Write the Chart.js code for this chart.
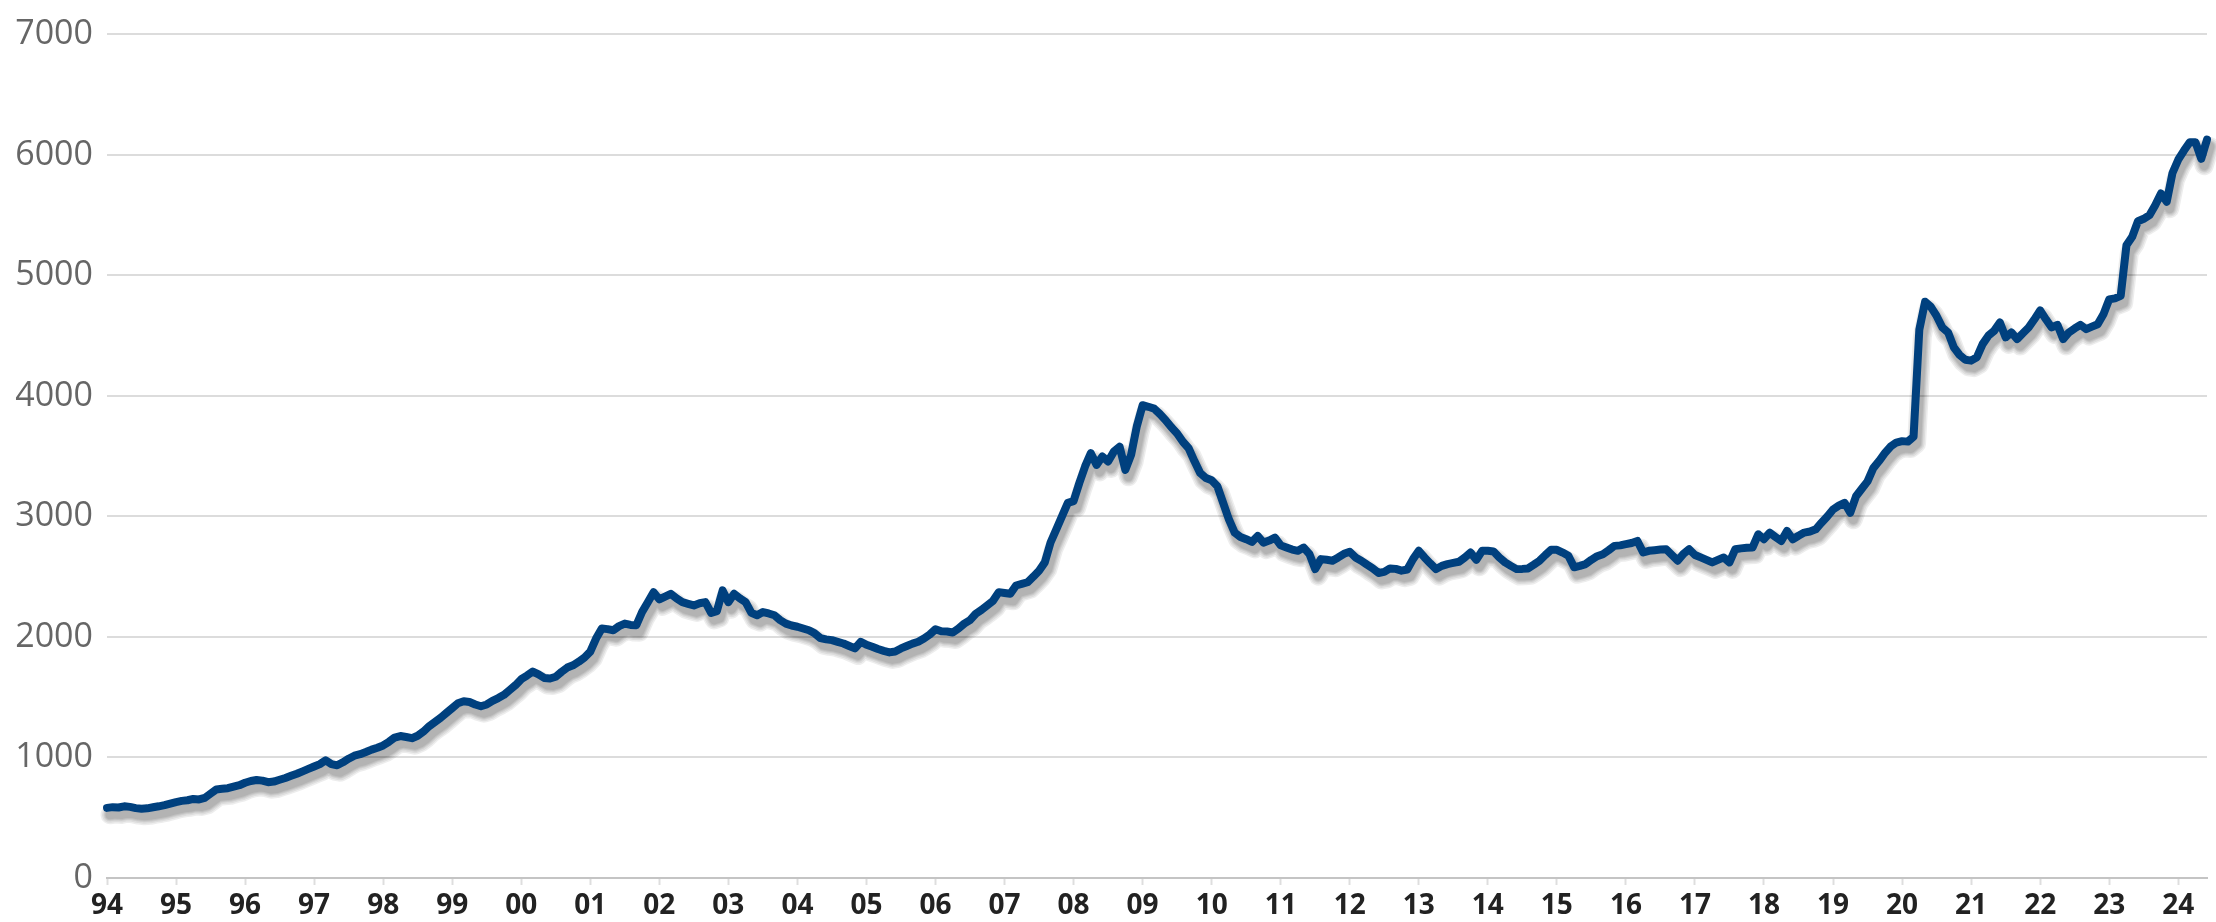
<!DOCTYPE html>
<html>
<head>
<meta charset="utf-8">
<script src="https://cdn.jsdelivr.net/npm/chart.js@4.4.1/dist/chart.umd.min.js"></script>
<style>
  html, body { margin: 0; padding: 0; background: #fff; }
  #wrap { width: 2216px; height: 922px; position: relative; }
</style>
</head>
<body>
<div id="wrap"><canvas id="indexChart"></canvas></div>
<script>
// monthly values, Jan 1994 .. Jun 2024
const values1994to1999 = [
  582, 588, 585, 595, 590, 580, 574, 578, 587, 595, 605, 618,
  630, 640, 645, 656, 652, 665, 700, 735, 740, 745, 758, 770,
  790, 805, 813, 808, 795, 800, 815, 830, 848, 865, 885, 905,
  925, 945, 977, 945, 935, 960, 990, 1015, 1027, 1045, 1065, 1081,
  1100, 1130, 1165, 1178, 1170, 1160, 1180, 1215, 1260, 1295, 1330, 1370,
  1410, 1450, 1466, 1460, 1440, 1425, 1440, 1470, 1493, 1520, 1560, 1600
];
const values2000to2009 = [
  1650, 1680, 1713, 1690, 1660, 1655, 1670, 1710, 1746, 1765, 1795, 1830,
  1878, 1987, 2070, 2065, 2056, 2090, 2111, 2100, 2097, 2207, 2289, 2372,
  2312, 2335, 2358, 2320, 2289, 2275, 2262, 2280, 2289, 2200, 2215, 2386,
  2289, 2358, 2320, 2289, 2200, 2180, 2207, 2195, 2180, 2140, 2111, 2095,
  2085, 2070, 2056, 2030, 1990, 1980, 1974, 1960, 1946, 1925, 1905, 1960,
  1935, 1919, 1900, 1885, 1872, 1880, 1905, 1925, 1945, 1960, 1987, 2020,
  2064, 2048, 2045, 2037, 2070, 2111, 2140, 2193, 2225, 2262, 2300, 2372,
  2365, 2358, 2427, 2440, 2454, 2500, 2550, 2619, 2784, 2893, 3003, 3113,
  3127, 3278, 3415, 3525, 3428, 3497, 3456, 3538, 3579, 3387, 3511, 3750,
  3923, 3910, 3895, 3850, 3799, 3740, 3689, 3620, 3566, 3460, 3360, 3319
];
const values2010to2019 = [
  3300, 3250, 3113, 2975, 2866, 2830, 2811, 2789, 2838, 2783, 2800, 2824,
  2760, 2742, 2725, 2715, 2742, 2687, 2563, 2646, 2640, 2633, 2660, 2690,
  2707, 2660, 2633, 2600, 2569, 2531, 2540, 2569, 2565, 2550, 2560, 2646,
  2715, 2660, 2610, 2563, 2590, 2605, 2615, 2624, 2660, 2701, 2640, 2715,
  2715, 2710, 2660, 2619, 2590, 2563, 2565, 2569, 2600, 2633, 2680, 2723,
  2723, 2700, 2674, 2578, 2590, 2605, 2640, 2670, 2687, 2720, 2756, 2760,
  2770, 2780, 2797, 2701, 2715, 2720, 2725, 2728, 2680, 2633, 2690, 2728,
  2680, 2660, 2640, 2619, 2640, 2660, 2619, 2728, 2735, 2740, 2742, 2852,
  2811, 2866, 2830, 2797, 2880, 2811, 2840, 2866, 2875, 2893, 2948, 3000,
  3058, 3090, 3113, 3031, 3168, 3230, 3291, 3401, 3460, 3525, 3580, 3613
];
const values2020to2024 = [
  3625, 3621, 3662, 4550, 4782, 4740, 4664, 4568, 4527, 4403, 4340, 4300,
  4293, 4321, 4430, 4500, 4540, 4609, 4486, 4527, 4472, 4520, 4568, 4636,
  4710, 4636, 4568, 4590, 4472, 4527, 4560, 4590, 4554, 4575, 4595, 4677,
  4801, 4810, 4830, 5250, 5320, 5450, 5470, 5500, 5583, 5680, 5611, 5850,
  5960, 6036, 6105, 6105, 5968, 6127
];
const yearLabels = ['94', '95', '96', '97', '98', '99', '00', '01', '02', '03', '04',
  '05', '06', '07', '08', '09', '10', '11', '12', '13', '14', '15', '16', '17', '18',
  '19', '20', '21', '22', '23', '24'];
const yTicks = [0, 1000, 2000, 3000, 4000, 5000, 6000, 7000];

const allValues = values1994to1999.concat(values2000to2009, values2010to2019, values2020to2024);
const points = allValues.map((v, i) => ({ x: i, y: v }));

// soft drop shadow: stroke the line's own path a few times, offset, wide and faint
const lineShadow = {
  id: 'lineShadow',
  beforeDatasetDraw(chart, args) {
    const line = args.meta.dataset;
    if (!line) return;
    const c = chart.ctx;
    c.save();
    c.translate(3, 7);
    c.lineJoin = 'round';
    c.lineCap = 'round';
    c.strokeStyle = 'rgba(0, 0, 0, 0.07)';
    [19, 16, 13, 11, 9].forEach(w => {
      c.lineWidth = w;
      c.beginPath();
      line.path(c);
      c.stroke();
    });
    c.restore();
  }
};

document.addEventListener('DOMContentLoaded', () => {
  const ctx = document.getElementById('indexChart').getContext('2d');
  new Chart(ctx, {
    type: 'line',
    data: {
      datasets: [{
        data: points,
        borderColor: '#00407e',
        borderWidth: 8,
        borderJoinStyle: 'round',
        borderCapStyle: 'round',
        pointRadius: 0,
        tension: 0,
        fill: false,
        clip: false
      }]
    },
    options: {
      responsive: true,
      maintainAspectRatio: false,
      animation: false,
      layout: { padding: { top: 28, right: 9, bottom: 0, left: 0 } },
      plugins: {
        legend: { display: false },
        tooltip: { enabled: false }
      },
      scales: {
        x: {
          type: 'linear',
          min: 0,
          max: allValues.length - 1,
          border: { display: true, color: '#c4c4c4', width: 2 },
          grid: {
            drawOnChartArea: false,
            drawTicks: true,
            tickLength: 7,
            tickWidth: 2,
            tickColor: '#dedede'
          },
          ticks: {
            stepSize: 12,
            includeBounds: false,
            autoSkip: false,
            maxRotation: 0,
            padding: 4,
            color: '#222',
            font: { family: 'Open Sans', size: 28, weight: 'bold' },
            callback: (value) => yearLabels[value / 12]
          },
          afterFit: (scale) => { scale.height = 44; }
        },
        y: {
          min: 0,
          max: 7000,
          border: { display: false },
          grid: { color: '#dcdcdc', lineWidth: 2, drawTicks: false },
          afterBuildTicks: (scale) => { scale.ticks = yTicks.map(v => ({ value: v })); },
          ticks: {
            padding: 14,
            color: '#666',
            font: { family: 'Open Sans', size: 34 },
            callback: (value) => String(value)
          },
          afterFit: (scale) => { scale.width = 107; }
        }
      }
    },
    plugins: [lineShadow]
  });
});
</script>
</body>
</html>
